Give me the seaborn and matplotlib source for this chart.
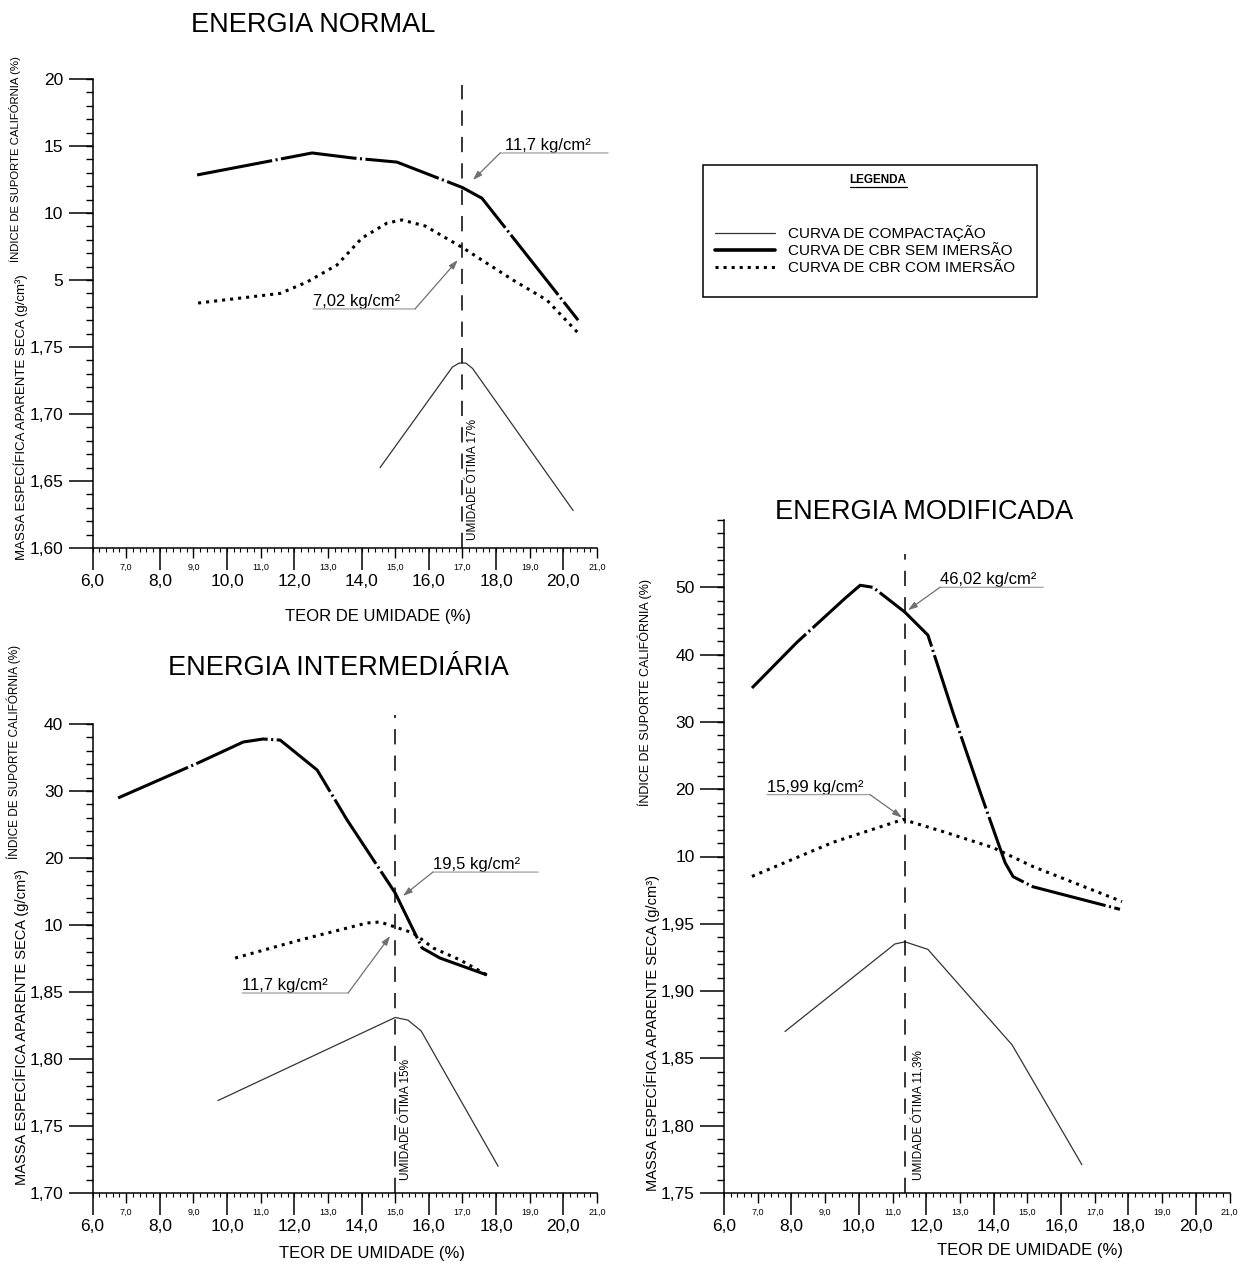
import numpy as np
import pandas as pd
import matplotlib
matplotlib.use("Agg")
import matplotlib.pyplot as plt
import seaborn as sns
from matplotlib.lines import Line2D
from matplotlib.patches import Rectangle
from matplotlib.ticker import MultipleLocator, NullLocator

# ------------------------------------------------------------------ data
umidade_major = [6, 8, 10, 12, 14, 16, 18, 20]
umidade_major_labels = ['6,0', '8,0', '10,0', '12,0', '14,0', '16,0', '18,0', '20,0']
umidade_minor = [7, 9, 11, 13, 15, 17, 19, 21]
umidade_minor_labels = ['7,0', '9,0', '11,0', '13,0', '15,0', '17,0', '19,0', '21,0']

# ENERGIA NORMAL
normal_comp_x = [14.55, 16.70, 16.90, 17.10, 17.30, 20.29]
normal_comp_y = [1.660, 1.735, 1.738, 1.738, 1.734, 1.628]
normal_sem_x = [9.11, 12.53, 13.75, 15.05, 17.00, 17.58, 20.44]
normal_sem_y = [12.84, 14.48, 14.10, 13.80, 11.90, 11.10, 2.00]
normal_com_x = [9.14, 11.58, 12.38, 13.27, 14.01, 14.76, 15.20, 15.89, 17.02, 18.50, 19.51, 20.44]
normal_com_y = [3.28, 4.00, 4.85, 6.12, 8.13, 9.25, 9.48, 9.03, 7.39, 5.00, 3.50, 1.04]
normal_dens_ticks = [1.60, 1.65, 1.70, 1.75]
normal_dens_labels = ['1,60', '1,65', '1,70', '1,75']
normal_cbr_ticks = [5, 10, 15, 20]
normal_cbr_labels = ['5', '10', '15', '20']

# ENERGIA INTERMEDIÁRIA
inter_comp_x = [9.73, 15.00, 15.38, 15.77, 18.06]
inter_comp_y = [1.769, 1.831, 1.829, 1.821, 1.720]
inter_sem_x = [6.76, 9.20, 10.48, 11.07, 11.58, 12.68, 13.57, 15.00, 15.80, 16.33, 17.73]
inter_sem_y = [28.96, 34.33, 37.31, 37.76, 37.60, 33.13, 25.67, 14.78, 6.57, 5.07, 2.54]
inter_com_x = [10.24, 12.17, 14.16, 14.55, 15.00, 15.53, 16.13, 16.93, 17.73]
inter_com_y = [5.07, 7.76, 10.30, 10.45, 9.70, 8.81, 6.57, 4.78, 2.54]
inter_dens_ticks = [1.70, 1.75, 1.80, 1.85]
inter_dens_labels = ['1,70', '1,75', '1,80', '1,85']
inter_cbr_ticks = [10, 20, 30, 40]
inter_cbr_labels = ['10', '20', '30', '40']

# ENERGIA MODIFICADA
mod_comp_x = [7.81, 11.07, 11.37, 12.05, 14.55, 16.62]
mod_comp_y = [1.870, 1.935, 1.9366, 1.931, 1.860, 1.771]
mod_sem_x = [6.83, 8.17, 9.60, 10.04, 10.42, 11.37, 12.05, 12.80, 13.60, 14.34, 14.58, 15.17, 17.75]
mod_sem_y = [35.04, 41.85, 48.40, 50.30, 50.00, 46.30, 42.90, 31.30, 19.60, 9.10, 7.00, 5.50, 2.15]
mod_com_x = [6.83, 9.23, 11.31, 12.50, 13.98, 15.17, 17.81]
mod_com_y = [7.04, 12.10, 15.50, 13.70, 11.33, 8.50, 3.30]
mod_dens_ticks = [1.75, 1.80, 1.85, 1.90, 1.95]
mod_dens_labels = ['1,75', '1,80', '1,85', '1,90', '1,95']
mod_cbr_ticks = [10, 20, 30, 40, 50]
mod_cbr_labels = ['10', '20', '30', '40', '50']

legend_labels = ['CURVA DE COMPACTAÇÃO', 'CURVA DE CBR SEM IMERSÃO', 'CURVA DE CBR COM IMERSÃO']

# ------------------------------------------------------------------ style
sns.set_style('ticks', {'axes.edgecolor': 'black', 'xtick.color': 'black',
                        'ytick.color': 'black', 'text.color': 'black',
                        'axes.labelcolor': 'black'})
plt.rcParams['font.family'] = ['Liberation Sans', 'DejaVu Sans']
plt.rcParams['lines.scale_dashes'] = False

W, H = 1250, 1266
fig = plt.figure(figsize=(W / 100, H / 100), dpi=100)


def rect_px(l, t, r, b):
    return [l / W, 1 - b / H, (r - l) / W, (b - t) / H]


SEM_STYLE = (0, (55, 2.5, 1.5, 2.5))
COM_STYLE = (0, (2.2, 3.6))
DASH_STYLE = (0, (11, 8))


def curve(ax, xs, ys, **kw):
    df = pd.DataFrame({'umidade': xs, 'valor': ys})
    sns.lineplot(data=df, x='umidade', y='valor', ax=ax, sort=False,
                 estimator=None, errorbar=None, **kw)


def leader(ax2, txt, text_x, line_x0, line_x1, line_y, tail_x, tip):
    ax2.text(text_x, line_y, txt, fontsize=12, ha='left', va='bottom', clip_on=False)
    ax2.annotate('', xy=(line_x1, line_y), xytext=(line_x0, line_y),
                 arrowprops=dict(arrowstyle='-', color='#a0a0a0', lw=0.9,
                                 shrinkA=0, shrinkB=0), annotation_clip=False)
    ax2.annotate('', xy=tip, xytext=(tail_x, line_y),
                 arrowprops=dict(arrowstyle='-|>,head_length=0.55,head_width=0.18',
                                 color='#707070', lw=0.9, shrinkA=0, shrinkB=0),
                 annotation_clip=False)


def panel(c):
    ax = fig.add_axes(c['rect'])
    ax2 = ax.twinx()
    curve(ax, c['comp_x'], c['comp_y'], color='#333333', linewidth=0.9)
    curve(ax2, c['sem_x'], c['sem_y'], color='black', linewidth=2.2, linestyle=SEM_STYLE)
    curve(ax2, c['com_x'], c['com_y'], color='black', linewidth=2.2, linestyle=COM_STYLE)
    ax.set_xlim(6, 21)
    ax.set_ylim(*c['dens_lim'])
    ax2.set_ylim(*c['cbr_lim'])

    for s in ['top', 'right']:
        ax.spines[s].set_visible(False)
    for s in ax2.spines.values():
        s.set_visible(False)
    ax.spines['left'].set_linewidth(1.1)
    ax.spines['bottom'].set_linewidth(1.1)

    # y ticks (density on ax, CBR on twin, both on the left)
    ax.set_yticks(c['dens_ticks'], labels=c['dens_labels'])
    ax.yaxis.set_minor_locator(MultipleLocator(0.01))
    ax.tick_params(axis='y', which='major', length=17, width=1.1, pad=4, labelsize=12.5)
    ax.tick_params(axis='y', which='minor', length=5, width=1.0)
    ax2.yaxis.set_ticks_position('left')
    ax2.set_yticks(c['cbr_ticks'], labels=c['cbr_labels'])
    ax2.yaxis.set_minor_locator(NullLocator())
    ax2.tick_params(axis='y', which='major', left=True, right=False, labelleft=True,
                    labelright=False, length=17, width=1.1, pad=4, labelsize=12.5)

    # x ticks
    ax.set_xticks(umidade_major, labels=umidade_major_labels)
    ax.set_xticks(umidade_minor, labels=umidade_minor_labels, minor=True)
    ax.tick_params(axis='x', which='major', length=16, width=1.1, pad=3, labelsize=12.5)
    ax.tick_params(axis='x', which='minor', length=7, width=1.0, pad=4, labelsize=6.5)
    sec = ax.secondary_xaxis('bottom')
    sec.set_ticks(np.arange(6, 21.001, 0.2))
    sec.tick_params(axis='x', length=3, width=0.8, labelbottom=False)
    sec.spines['bottom'].set_visible(False)

    # labels
    ax.set_xlabel('TEOR DE UMIDADE (%)', fontsize=12, va='center')
    ax.xaxis.set_label_coords(*c['xlabel_pos'])
    ax.set_ylabel('MASSA ESPECÍFICA APARENTE SECA (g/cm³)', fontsize=c['massa_fs'], va='center')
    ax.yaxis.set_label_coords(c['ylab_x'], c['massa_y'])
    ax2.set_ylabel('ÍNDICE DE SUPORTE CALIFÓRNIA (%)', fontsize=c['indice_fs'], va='center')
    ax2.yaxis.set_label_position('left')
    ax2.yaxis.set_label_coords(c['ylab_x'], c['indice_y'])
    t = ax.set_title(c['title'], fontsize=19.5, y=c['title_pos'][1], va='center', pad=0)
    t.set_x(c['title_pos'][0])

    # optimum moisture line
    ax.axvline(c['opt_x'], ymin=0, ymax=c['vtop'], color='black', lw=1.1,
               linestyle=DASH_STYLE, clip_on=False)
    ax.text(c['opt_text_x'], c['opt_text_y'], c['opt_label'], rotation=90,
            ha='center', va='bottom', fontsize=8.5)

    for a in c['annots']:
        leader(ax2, *a)
    return ax, ax2


panels = [
    dict(rect=rect_px(92.5, 79, 597, 548), title='ENERGIA NORMAL', title_pos=(0.437, 1.115),
         xlabel_pos=(0.566, -0.145), ylab_x=-0.1417, massa_y=0.279, indice_y=0.829,
         massa_fs=9.5, indice_fs=8.2,
         dens_lim=(1.60, 1.95), cbr_lim=(-15, 20),
         dens_ticks=normal_dens_ticks, dens_labels=normal_dens_labels,
         cbr_ticks=normal_cbr_ticks, cbr_labels=normal_cbr_labels,
         comp_x=normal_comp_x, comp_y=normal_comp_y, sem_x=normal_sem_x, sem_y=normal_sem_y,
         com_x=normal_com_x, com_y=normal_com_y,
         opt_x=17.0, vtop=0.987, opt_text_x=17.30, opt_text_y=1.606,
         opt_label='UMIDADE ÓTIMA 17%',
         annots=[('11,7 kg/cm²', 18.27, 18.12, 21.33, 14.48, 18.12, (17.31, 12.46)),
                 ('7,02 kg/cm²', 12.56, 12.56, 15.59, 2.84, 15.59, (16.86, 6.49))]),
    dict(rect=rect_px(92.5, 724, 597, 1193), title='ENERGIA INTERMEDIÁRIA', title_pos=(0.487, 1.119),
         xlabel_pos=(0.554, -0.128), ylab_x=-0.1417, massa_y=0.354, indice_y=0.940,
         massa_fs=10.5, indice_fs=8.5,
         dens_lim=(1.70, 2.05), cbr_lim=(-30, 40),
         dens_ticks=inter_dens_ticks, dens_labels=inter_dens_labels,
         cbr_ticks=inter_cbr_ticks, cbr_labels=inter_cbr_labels,
         comp_x=inter_comp_x, comp_y=inter_comp_y, sem_x=inter_sem_x, sem_y=inter_sem_y,
         com_x=inter_com_x, com_y=inter_com_y,
         opt_x=15.0, vtop=1.02, opt_text_x=15.33, opt_text_y=1.7097,
         opt_label='UMIDADE ÓTIMA 15%',
         annots=[('19,5 kg/cm²', 16.12, 16.12, 19.25, 17.9, 16.12, (15.23, 14.33)),
                 ('11,7 kg/cm²', 10.45, 10.45, 13.6, -0.15, 13.6, (14.85, 8.36))]),
    dict(rect=rect_px(724, 520, 1229.5, 1193), title='ENERGIA MODIFICADA', title_pos=(0.396, 1.012),
         xlabel_pos=(0.605, -0.085), ylab_x=-0.1424, massa_y=0.238, indice_y=0.744,
         massa_fs=10.5, indice_fs=9.0,
         dens_lim=(1.75, 2.25), cbr_lim=(-40, 60),
         dens_ticks=mod_dens_ticks, dens_labels=mod_dens_labels,
         cbr_ticks=mod_cbr_ticks, cbr_labels=mod_cbr_labels,
         comp_x=mod_comp_x, comp_y=mod_comp_y, sem_x=mod_sem_x, sem_y=mod_sem_y,
         com_x=mod_com_x, com_y=mod_com_y,
         opt_x=11.37, vtop=0.95, opt_text_x=11.78, opt_text_y=1.7597,
         opt_label='UMIDADE ÓTIMA 11,3%',
         annots=[('46,02 kg/cm²', 12.41, 12.41, 15.47, 50.0, 12.41, (11.46, 46.6)),
                 ('15,99 kg/cm²', 7.28, 7.28, 10.33, 19.2, 10.33, (11.28, 15.8))]),
]

for c in panels:
    panel(c)

# ------------------------------------------------------------------ legend
fig.add_artist(Rectangle((703 / W, 1 - 297 / H), (1037 - 703) / W, (297 - 165) / H,
                         transform=fig.transFigure, fill=False, lw=1.1, ec='black'))
leg_title = fig.text(878 / W, 1 - 180 / H, 'LEGENDA', ha='center', va='center',
                     fontsize=8.5, weight='bold')
handles = [Line2D([], [], color='#333333', lw=0.9),
           Line2D([], [], color='black', lw=2.6),
           Line2D([], [], color='black', lw=2.2, linestyle=COM_STYLE)]
fig.legend(handles, legend_labels, loc='center left', bbox_to_anchor=(715 / W, 1 - 250 / H),
           frameon=False, fontsize=11, handlelength=3.9, handletextpad=0.85,
           labelspacing=0.2, borderpad=0, borderaxespad=0)

fig.canvas.draw()
bb = leg_title.get_window_extent()
fig.add_artist(Line2D([bb.x0 / W, bb.x1 / W], [(bb.y0 - 1) / H, (bb.y0 - 1) / H],
                      transform=fig.transFigure, color='black', lw=0.9))

fig.savefig('out.png', dpi=100)
